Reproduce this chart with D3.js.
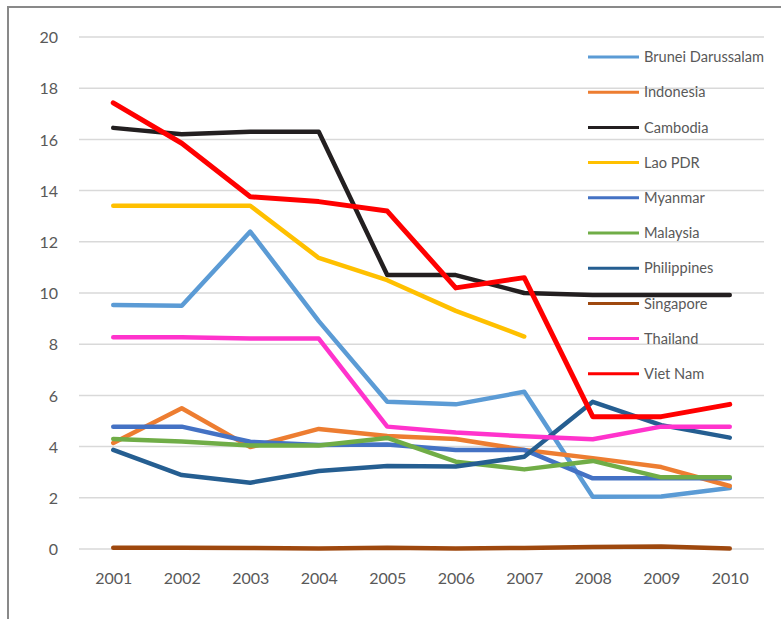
<!DOCTYPE html>
<html>
<head>
<meta charset="utf-8">
<script src="https://cdn.jsdelivr.net/npm/d3@7"></script>
<style>
  body { margin: 0; background: #fff; }
  svg text { font-family: Lato, "Open Sans", sans-serif; fill: #595959; }
</style>
</head>
<body>
<div id="chart"></div>
<script>
const years = [2001, 2002, 2003, 2004, 2005, 2006, 2007, 2008, 2009, 2010];
const countries = ["Brunei Darussalam", "Indonesia", "Cambodia", "Lao PDR", "Myanmar",
  "Malaysia", "Philippines", "Singapore", "Thailand", "Viet Nam"];
const brunei      = [9.53, 9.5, 12.4, 8.9, 5.75, 5.65, 6.14, 2.04, 2.05, 2.38];
const indonesia   = [4.14, 5.5, 3.98, 4.69, 4.41, 4.3, 3.87, 3.55, 3.2, 2.46];
const cambodia    = [16.45, 16.2, 16.3, 16.3, 10.7, 10.7, 10.0, 9.92, 9.92, 9.92];
const lao         = [13.41, 13.41, 13.41, 11.37, 10.5, 9.3, 8.3, null, null, null];
const myanmar     = [4.78, 4.78, 4.19, 4.06, 4.08, 3.87, 3.87, 2.76, 2.76, 2.76];
const malaysia    = [4.3, 4.2, 4.04, 4.04, 4.34, 3.41, 3.11, 3.44, 2.8, 2.8];
const philippines = [3.87, 2.89, 2.59, 3.05, 3.24, 3.22, 3.6, 5.75, 4.84, 4.35];
const singapore   = [0.05, 0.05, 0.04, 0.02, 0.05, 0.02, 0.04, 0.08, 0.1, 0.02];
const thailand    = [8.27, 8.27, 8.22, 8.22, 4.78, 4.55, 4.4, 4.29, 4.78, 4.78];
const vietnam     = [17.43, 15.85, 13.76, 13.57, 13.2, 10.2, 10.6, 5.17, 5.17, 5.65];
const yTicks = [0, 2, 4, 6, 8, 10, 12, 14, 16, 18, 20];

const seriesValues = [brunei, indonesia, cambodia, lao, myanmar, malaysia, philippines, singapore, thailand, vietnam];
const colors = ["#5B9BD5", "#ED7D31", "#231F20", "#FFC000", "#4472C4",
  "#70AD47", "#255E91", "#9E480E", "#FF33CC", "#FF0000"];

const width = 781, height = 619;
const svg = d3.select("#chart").append("svg")
  .attr("width", width).attr("height", height);

// frame (only left and top edges show)
svg.append("path")
  .attr("d", "M8,619 L8,7 L781,7")
  .attr("fill", "none").attr("stroke", "#898989").attr("stroke-width", 2);

const x = d3.scalePoint().domain(years).range([79, 764]).padding(0.5);
const y = d3.scaleLinear().domain([0, 20]).range([549, 37]);

// gridlines
svg.append("g").selectAll("line").data(yTicks).join("line")
  .attr("x1", 79).attr("x2", 764)
  .attr("y1", d => y(d)).attr("y2", d => y(d))
  .attr("stroke", "#d9d9d9").attr("stroke-width", 1.5);

// y axis labels
const yAxis = svg.append("g").attr("transform", "translate(66,0)")
  .call(d3.axisLeft(y).tickValues(yTicks).tickSize(0).tickPadding(8));
yAxis.select(".domain").remove();
yAxis.selectAll("text").attr("font-size", 16).attr("font-family", null).attr("dy", "0.35em");

// x axis labels
const xAxis = svg.append("g").attr("transform", "translate(0,573)")
  .call(d3.axisBottom(x).tickSize(0).tickPadding(0).tickFormat(d3.format("d")));
xAxis.select(".domain").remove();
xAxis.selectAll("text").attr("font-size", 16).attr("font-family", null).attr("dy", "0.71em");

// lines
const line = d3.line()
  .defined(d => d.v !== null)
  .x(d => x(d.year)).y(d => y(d.v));

const legend = svg.append("g");
countries.forEach((name, i) => {
  const ly = 57 + i * 35.2;
  legend.append("line")
    .attr("x1", 588).attr("x2", 639).attr("y1", ly).attr("y2", ly)
    .attr("stroke", colors[i]).attr("stroke-width", 3);
  legend.append("text")
    .attr("x", 644).attr("y", ly).attr("dy", "0.35em")
    .attr("font-size", 14.6).text(name);
});

countries.forEach((name, i) => {
  const pts = years.map((yr, j) => ({ year: yr, v: seriesValues[i][j] }));
  svg.append("path")
    .datum(pts)
    .attr("d", line)
    .attr("fill", "none")
    .attr("stroke", colors[i])
    .attr("stroke-width", name === "Viet Nam" ? 5 : 4.5)
    .attr("stroke-linejoin", "round")
    .attr("stroke-linecap", "round");
});
</script>
</body>
</html>
